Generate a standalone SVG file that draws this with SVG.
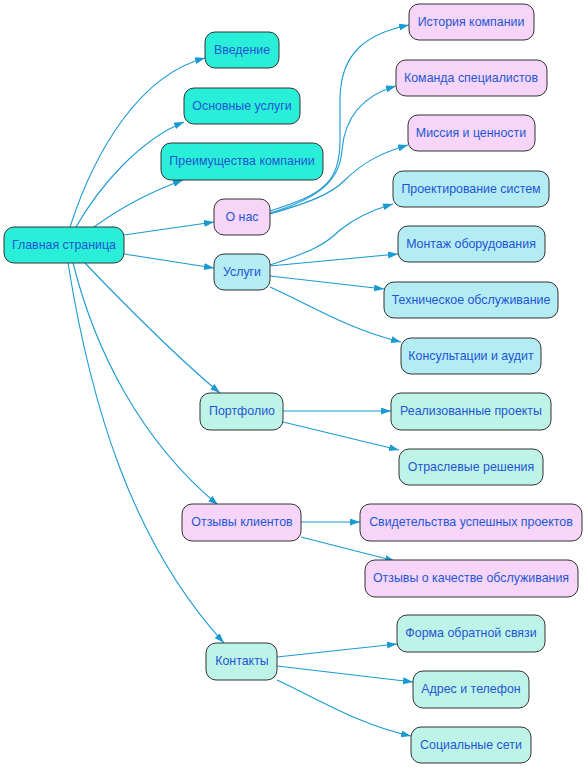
<svg xmlns="http://www.w3.org/2000/svg" width="587" height="768" viewBox="0 0 587 768">
<defs>
<marker id="arr" markerUnits="userSpaceOnUse" markerWidth="11" markerHeight="8" refX="10" refY="3.5" orient="auto">
<path d="M0,0 L10,3.5 L0,7 z" fill="#1a9ad2"/>
</marker>
<style>
.e{fill:none;stroke:#1a9ad2;stroke-width:1.1;marker-end:url(#arr)}
.n rect{stroke:#333;stroke-width:1}
.n text{font-family:"Liberation Sans",Arial,sans-serif;font-size:12.4px;fill:#1f55d4;text-anchor:middle}
.t rect{fill:#29efd8}
.p rect{fill:#f6d5f9}
.b rect{fill:#b4ecf4}
.m rect{fill:#bef4e8}
</style>
</defs>
<rect width="587" height="768" fill="#fff"/>
<g id="edges">
<path class="e" d="M70,227 C95,150 140,75 205,58"/>
<path class="e" d="M76,227 C100,185 140,140 184,122"/>
<path class="e" d="M94,227 C120,208 150,192 183,180"/>
<path class="e" d="M124,235 L214,222"/>
<path class="e" d="M124,254 L214,268"/>
<path class="e" d="M85,263 C120,300 180,360 220,393"/>
<path class="e" d="M73,263 C95,350 140,440 218,505"/>
<path class="e" d="M68,263 C90,400 130,540 224,643"/>
<path class="e" d="M270,211 C320,195 340,185 340,140 L340,100 C340,50 370,33 409,25"/>
<path class="e" d="M270,213 C320,198 340,180 342,150 C345,115 365,95 396,86"/>
<path class="e" d="M270,214 C310,202 330,195 345,180 C365,160 385,152 408,145"/>
<path class="e" d="M270,265 C310,252 325,245 340,230 C355,218 372,210 393,204"/>
<path class="e" d="M270,266 L398,254"/>
<path class="e" d="M270,276 L384,289"/>
<path class="e" d="M270,287 C310,305 350,330 401,342"/>
<path class="e" d="M283,411 L391,411"/>
<path class="e" d="M283,422 L399,450"/>
<path class="e" d="M301,522 L360,522"/>
<path class="e" d="M301,537 L395,561"/>
<path class="e" d="M277,657 L397,644"/>
<path class="e" d="M277,666 L413,682"/>
<path class="e" d="M277,680 C320,700 360,725 411,736"/>
</g>
<g id="n_main" class="n t"><rect x="4" y="227" width="120" height="36" rx="10"/><text x="64" y="249">Главная страница</text></g>
<g id="n_intro" class="n t"><rect x="205" y="32" width="74" height="36" rx="10"/><text x="242" y="54">Введение</text></g>
<g id="n_main_services" class="n t"><rect x="184" y="88" width="116" height="36" rx="10"/><text x="242" y="110">Основные услуги</text></g>
<g id="n_adv" class="n t"><rect x="161" y="143" width="162" height="37" rx="10"/><text x="242" y="165">Преимущества компании</text></g>
<g id="n_about" class="n p"><rect x="214" y="199" width="56" height="36" rx="10"/><text x="242" y="221">О нас</text></g>
<g id="n_services" class="n b"><rect x="214" y="254" width="56" height="36" rx="10"/><text x="242" y="276">Услуги</text></g>
<g id="n_portfolio" class="n m"><rect x="200" y="393" width="83" height="37" rx="10"/><text x="242" y="415">Портфолио</text></g>
<g id="n_reviews" class="n p"><rect x="182" y="504" width="119" height="37" rx="10"/><text x="242" y="526">Отзывы клиентов</text></g>
<g id="n_contacts" class="n m"><rect x="206" y="643" width="71" height="37" rx="10"/><text x="242" y="665">Контакты</text></g>
<g id="n_history" class="n p"><rect x="409" y="4" width="125" height="36" rx="10"/><text x="471" y="26">История компании</text></g>
<g id="n_team" class="n p"><rect x="396" y="60" width="151" height="36" rx="10"/><text x="471" y="82">Команда специалистов</text></g>
<g id="n_mission" class="n p"><rect x="408" y="115" width="127" height="36" rx="10"/><text x="471" y="137">Миссия и ценности</text></g>
<g id="n_design" class="n b"><rect x="393" y="171" width="156" height="36" rx="10"/><text x="471" y="193">Проектирование систем</text></g>
<g id="n_install" class="n b"><rect x="398" y="226" width="147" height="36" rx="10"/><text x="471" y="248">Монтаж оборудования</text></g>
<g id="n_maint" class="n b"><rect x="384" y="282" width="174" height="36" rx="10"/><text x="471" y="304">Техническое обслуживание</text></g>
<g id="n_consult" class="n b"><rect x="401" y="338" width="140" height="36" rx="10"/><text x="471" y="360">Консультации и аудит</text></g>
<g id="n_done" class="n m"><rect x="391" y="393" width="160" height="37" rx="10"/><text x="471" y="415">Реализованные проекты</text></g>
<g id="n_industry" class="n m"><rect x="399" y="449" width="144" height="36" rx="10"/><text x="471" y="471">Отраслевые решения</text></g>
<g id="n_testimonials" class="n p"><rect x="360" y="504" width="222" height="37" rx="10"/><text x="471" y="526">Свидетельства успешных проектов</text></g>
<g id="n_quality" class="n p"><rect x="365" y="560" width="213" height="37" rx="10"/><text x="471" y="582">Отзывы о качестве обслуживания</text></g>
<g id="n_form" class="n m"><rect x="397" y="615" width="148" height="37" rx="10"/><text x="471" y="637">Форма обратной связи</text></g>
<g id="n_address" class="n m"><rect x="413" y="671" width="116" height="37" rx="10"/><text x="471" y="693">Адрес и телефон</text></g>
<g id="n_social" class="n m"><rect x="411" y="727" width="120" height="36" rx="10"/><text x="471" y="749">Социальные сети</text></g>
</svg>
